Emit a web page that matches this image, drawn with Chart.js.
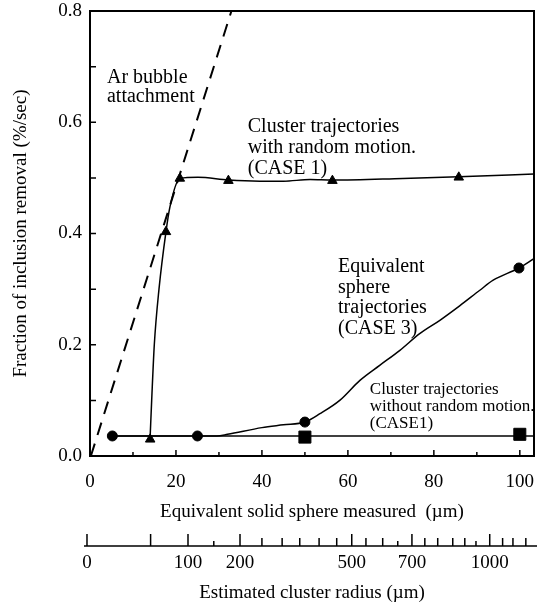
<!DOCTYPE html>
<html>
<head>
<meta charset="utf-8">
<script src="https://cdn.jsdelivr.net/npm/chart.js@4.4.1/dist/chart.umd.min.js"></script>
<style>
  html, body { margin: 0; padding: 0; background: #fff; }
  #removalChart { display: block; }
</style>
</head>
<body>
<canvas id="removalChart" width="537" height="606"></canvas>
<script>
// axis ticks (equivalent sphere diameter in µm, removal rate in %/sec)
const xTickValues = [0, 20, 40, 60, 80, 100];
const xMinorTicks = [10, 30, 50, 70, 90];
const yTickValues = [0, 0.2, 0.4, 0.6, 0.8];
const yMinorTicks = [0.1, 0.3, 0.5, 0.7];

// Ar bubble attachment
const bubbleX = [0.2, 32.9];
const bubbleY = [0, 0.8];

// CASE 1 - cluster trajectories with random motion
const randomCurveX = [14.0, 14.35, 14.96, 16.05, 17.67, 18.6, 20.9, 25.1, 32.2, 39.5, 45.0, 51.2, 56.4, 72.8, 85.8, 103.3];
const randomCurveY = [0.036, 0.1, 0.2, 0.3, 0.403, 0.448, 0.499, 0.501, 0.496, 0.494, 0.494, 0.497, 0.496, 0.499, 0.502, 0.507];
const randomMarkX = [14.0, 17.67, 20.9, 32.2, 56.4, 85.8];
const randomMarkY = [0.03, 0.403, 0.499, 0.495, 0.495, 0.501];

// CASE 3 - equivalent sphere trajectories
const sphereCurveX = [5.2, 25.0, 29.5, 32.0, 40.0, 45.0, 50.0, 53.5, 58.1, 62.8, 67.4, 72.1, 76.7, 81.4, 86.0, 90.7, 93.8, 99.8, 103.3];
const sphereCurveY = [0.036, 0.036, 0.036, 0.039, 0.051, 0.056, 0.061, 0.076, 0.100, 0.136, 0.163, 0.190, 0.220, 0.244, 0.270, 0.298, 0.316, 0.338, 0.355];
const sphereMarkX = [5.2, 25.0, 50.0, 99.8];
const sphereMarkY = [0.036, 0.036, 0.061, 0.338];

// CASE 1 - cluster trajectories without random motion
const plainCurveX = [5.2, 103.3];
const plainCurveY = [0.036, 0.036];
const plainMarkX = [50.0, 100.0];
const plainMarkY = [0.034, 0.039];

// estimated cluster radius (µm) and where it sits on the diameter axis
const radiusTickValues = [0, 50, 100, 150, 200, 250, 300, 350, 400, 450, 500, 550, 600, 650, 700, 750, 800, 850, 900, 950, 1000, 1050, 1100, 1150];
const radiusTickPos = [-0.7, 14.1, 22.8, 28.8, 34.9, 40.0, 44.7, 48.8, 53.3, 57.4, 60.9, 64.2, 68.1, 71.6, 74.9, 77.9, 80.9, 84.4, 87.2, 89.8, 93.0, 96.0, 98.4, 101.4];
const radiusLabels = [0, 100, 200, 500, 700, 1000];

const SERIF = '"Liberation Serif", "Times New Roman", serif';
const X_MAX = 103.3;

const pts = (xs, ys) => xs.map((v, i) => ({ x: v, y: ys[i] }));

const notes = [
  { lines: ['Ar bubble', 'attachment'], x: 3.95, y: 0.671, size: 20, lead: 19 },
  { lines: ['Cluster trajectories', 'with random motion.', '(CASE 1)'], x: 36.7, y: 0.583, size: 20, lead: 21 },
  { lines: ['Equivalent', 'sphere', 'trajectories', '(CASE 3)'], x: 57.7, y: 0.331, size: 20, lead: 20.8 },
  { lines: ['Cluster trajectories', 'without random motion.', '(CASE1)'], x: 65.1, y: 0.112, size: 17, lead: 17 }
];

const noteLabels = {
  id: 'noteLabels',
  afterDatasetsDraw(chart) {
    const { ctx } = chart;
    const { x, y } = chart.scales;
    ctx.save();
    ctx.fillStyle = '#000';
    ctx.textAlign = 'left';
    ctx.textBaseline = 'alphabetic';
    notes.forEach(n => {
      ctx.font = n.size + 'px ' + SERIF;
      const left = x.getPixelForValue(n.x);
      const top = y.getPixelForValue(n.y);
      n.lines.forEach((line, i) => ctx.fillText(line, left, top + i * n.lead));
    });
    ctx.restore();
  }
};

// frame, inward ticks and the cluster radius scale
const axisDecor = {
  id: 'axisDecor',
  afterDraw(chart) {
    const { ctx, chartArea: area } = chart;
    const { x, y, x2 } = chart.scales;
    ctx.save();
    ctx.strokeStyle = '#000';
    ctx.lineWidth = 2;
    ctx.strokeRect(area.left, area.top, area.right - area.left, area.bottom - area.top);

    ctx.lineWidth = 1.5;
    ctx.beginPath();
    const xTick = (v, len) => {
      const px = x.getPixelForValue(v);
      ctx.moveTo(px, area.bottom);
      ctx.lineTo(px, area.bottom - len);
    };
    const yTick = (v, len) => {
      const py = y.getPixelForValue(v);
      ctx.moveTo(area.left, py);
      ctx.lineTo(area.left + len, py);
    };
    xTickValues.forEach(v => xTick(v, 6));
    xMinorTicks.forEach(v => xTick(v, 4));
    yTickValues.forEach(v => yTick(v, 6));
    yMinorTicks.forEach(v => yTick(v, 6));
    ctx.stroke();

    const tall = [0, 50, 100, 200, 500, 700, 1000];
    const short = [150, 650, 950];
    const base = x2.top;
    ctx.beginPath();
    ctx.moveTo(x2.getPixelForValue(-1.4), base);
    ctx.lineTo(chart.width, base);
    radiusTickPos.forEach((pos, i) => {
      const r = radiusTickValues[i];
      const len = tall.includes(r) ? 12 : short.includes(r) ? 5 : 8;
      const px = x2.getPixelForValue(pos);
      ctx.moveTo(px, base);
      ctx.lineTo(px, base - len);
    });
    ctx.stroke();
    ctx.restore();
  }
};

// fixed axis boxes so the plot frame sits where it should
const fitHorizontal = h => s => { s.height = h; s.paddingLeft = 0; s.paddingRight = 0; };
const fitVertical = w => s => { s.width = w; s.paddingTop = 0; s.paddingBottom = 0; };
// label offset comes from an undrawn tick length instead of ticks.padding
const labelGap = len => ({ display: false, drawTicks: true, tickLength: len });

const lineStyle = { borderColor: '#000', borderWidth: 1.5, pointRadius: 0, fill: false };
const markStyle = { showLine: false, backgroundColor: '#000', borderColor: '#000', borderWidth: 1, clip: false };

const ctx = document.getElementById('removalChart').getContext('2d');
new Chart(ctx, {
  type: 'line',
  data: {
    datasets: [
      { ...markStyle, label: 'CASE 1 random', data: pts(randomMarkX, randomMarkY), pointStyle: 'triangle', pointRadius: 5.5 },
      { ...markStyle, label: 'CASE 3', data: pts(sphereMarkX, sphereMarkY), pointStyle: 'circle', pointRadius: 5 },
      { ...markStyle, label: 'CASE 1 plain', data: pts(plainMarkX, plainMarkY), pointStyle: 'rect', pointRadius: 8.5 },
      { ...lineStyle, label: 'random curve', data: pts(randomCurveX, randomCurveY), cubicInterpolationMode: 'monotone' },
      { ...lineStyle, label: 'sphere curve', data: pts(sphereCurveX, sphereCurveY), cubicInterpolationMode: 'monotone' },
      { ...lineStyle, label: 'plain curve', data: pts(plainCurveX, plainCurveY) },
      { ...lineStyle, label: 'Ar bubble', data: pts(bubbleX, bubbleY), borderWidth: 2, borderDash: [13, 9] }
    ]
  },
  options: {
    responsive: false,
    animation: false,
    devicePixelRatio: 1,
    layout: { autoPadding: false, padding: { top: 11, right: 3, left: 0, bottom: 0 } },
    plugins: {
      legend: { display: false },
      tooltip: { enabled: false }
    },
    scales: {
      x: {
        type: 'linear',
        position: 'bottom',
        min: 0,
        max: X_MAX,
        afterBuildTicks: s => { s.ticks = xTickValues.map(v => ({ value: v })); },
        afterFit: fitHorizontal(90),
        grid: labelGap(14.6),
        border: { display: true, color: '#000', width: 2 },
        ticks: { color: '#000', font: { family: SERIF, size: 19 }, padding: 0, autoSkip: false, maxRotation: 0 },
        title: {
          display: true,
          text: 'Equivalent solid sphere measured  (µm)',
          color: '#000',
          font: { family: SERIF, size: 19 },
          padding: { top: 0, bottom: 22.6 }
        }
      },
      x2: {
        type: 'linear',
        position: 'bottom',
        min: 0,
        max: X_MAX,
        afterBuildTicks: s => { s.ticks = radiusLabels.map(r => ({ value: radiusTickPos[radiusTickValues.indexOf(r)] })); },
        afterFit: fitHorizontal(60),
        grid: labelGap(5.6),
        border: { display: false },
        ticks: {
          color: '#000',
          font: { family: SERIF, size: 19 },
          padding: 0,
          autoSkip: false,
          maxRotation: 0,
          callback: (value, index) => String(radiusLabels[index])
        },
        title: {
          display: true,
          text: 'Estimated cluster radius (µm)',
          color: '#000',
          font: { family: SERIF, size: 19 },
          padding: { top: 0, bottom: 2 }
        }
      },
      y: {
        type: 'linear',
        min: 0,
        max: 0.8,
        afterBuildTicks: s => { s.ticks = yTickValues.map(v => ({ value: v })); },
        afterFit: fitVertical(90),
        grid: labelGap(8),
        border: { display: true, color: '#000', width: 2 },
        ticks: {
          color: '#000',
          font: { family: SERIF, size: 19 },
          padding: 0,
          callback: v => v.toFixed(1)
        },
        title: {
          display: true,
          text: 'Fraction of inclusion removal (%/sec)',
          color: '#000',
          font: { family: SERIF, size: 19 },
          padding: { top: 9.6, bottom: 0 }
        }
      }
    }
  },
  plugins: [noteLabels, axisDecor]
});
</script>
</body>
</html>
